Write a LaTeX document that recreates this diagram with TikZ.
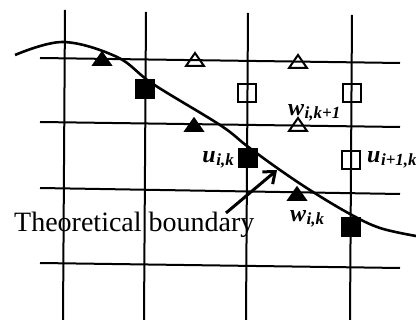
\documentclass[tikz,border=0pt]{standalone}
\usepackage{fontspec}
\setmainfont{Liberation Serif}
\usetikzlibrary{shapes.geometric,arrows.meta}
\tikzset{
  gridln/.style ={line width=2pt, draw=black},
  bnd/.style    ={line width=2.6pt, draw=black},
  ftri/.style   ={isosceles triangle, isosceles triangle stretches, shape border rotate=90,
                  minimum width=21pt, minimum height=15pt, inner sep=0pt, fill=black,
                  anchor=lower side},
  otri/.style   ={ftri, fill=none, draw=black, line width=2pt, minimum width=18pt, minimum height=13pt},
  fsq/.style    ={rectangle, minimum size=20pt, inner sep=0pt, fill=black},
  osq/.style    ={rectangle, minimum size=17.5pt, inner sep=0pt, draw=black, line width=2pt},
  lab/.style    ={inner sep=0pt, anchor=base west},
  fl/.style     ={-{Straight Barb[length=10pt,width=16pt]}, line width=3pt},
}
\newcommand{\symlab}[2]{{\fontsize{24}{24}\selectfont\bfseries\itshape #1\kern0.5pt\raisebox{-3pt}{\fontsize{17}{17}\selectfont #2}}}

\begin{document}
\begin{tikzpicture}[x=1pt,y=-1pt]
  \useasboundingbox (0,0) rectangle (416,320);
  % grid
  \draw[gridln] (65,10) -- (63,320);
  \draw[gridln] (146,12) -- (144,320);
  \draw[gridln] (248,13) -- (246,320);
  \draw[gridln] (352,15) -- (350,320);
  \draw[gridln] (40,58) -- (400,63);
  \draw[gridln] (40,122) -- (400,127);
  \draw[gridln] (40,188) -- (400,194);
  \draw[gridln] (40,263) -- (400,268);
  % boundary
  \draw[bnd] plot[smooth, tension=0.6] coordinates {(15,55) (63,42) (117,57) (153,84)
    (220,125) (247,146) (280,170) (313,192) (350,214) (380,228) (416,236)};
  % markers
  \node[ftri] (w1) at (102,66) {};
  \node[ftri] (w2) at (194,132) {};
  \node[ftri] (w3) at (297,201) {};
  \node[otri] (v1) at (195,67) {};
  \node[otri] (v2) at (298,69) {};
  \node[otri] (v3) at (298,132) {};
  \node[fsq] (u1) at (145,89) {};
  \node[fsq] (u2) at (248,158) {};
  \node[fsq] (u3) at (351,227) {};
  \node[osq] (s1) at (247,93) {};
  \node[osq] (s2) at (352,93) {};
  \node[osq] (s3) at (351,160) {};
  % labels
  \node[lab] (lwk1) at (288,116) {\symlab{w}{i,k+1}};
  \node[lab,anchor=base east] (luk) at (234,163) {\symlab{u}{i,k}};
  \node[lab] (luk1) at (367,163) {\symlab{u}{i+1,k}};
  \node[lab] (lwk) at (290,222) {\symlab{w}{i,k}};
  \node[lab] (tb) at (14,232) {\fontsize{28}{28}\selectfont Theoretical boundary};
  \coordinate (tail) at (226,213);
  \coordinate (tip) at (277,170);
  \draw[fl] (tail) -- (tip);
\end{tikzpicture}
\end{document}
